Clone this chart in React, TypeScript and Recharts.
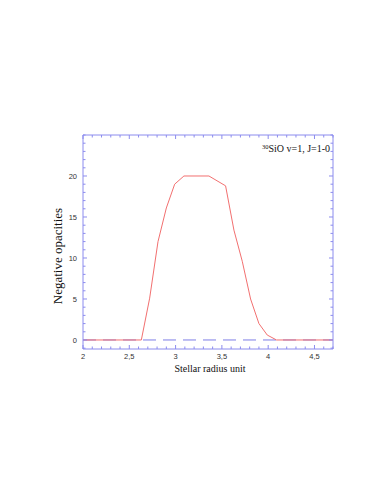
import { LineChart, Line, XAxis, YAxis, ReferenceLine, Label } from 'recharts';

// stellar radius (x) vs negative opacity (y) for 30SiO v=1, J=1-0
const RADIUS = [2.0, 2.63, 2.72, 2.81, 2.9, 2.99, 3.09, 3.36, 3.54, 3.63, 3.72, 3.81, 3.9, 3.99, 4.09, 4.7];
const OPACITY = [0, 0, 5.1, 12.0, 16.1, 19.0, 20, 20, 18.8, 13.4, 9.6, 5.0, 2.0, 0.6, 0, 0];

const X_MAJOR = [2, 2.5, 3, 3.5, 4, 4.5];
const Y_MAJOR = [0, 5, 10, 15, 20];
const X_MINOR = Array.from({ length: 28 }, (_, i) => +(2 + i * 0.1).toFixed(1));
const Y_MINOR = Array.from({ length: 27 }, (_, i) => i - 1);

const data = RADIUS.map((r, i) => ({ r, v: OPACITY[i] }));

const AXIS = '#8c8cee';
const LINE = '#f27070';
const TICK_FONT = '"Liberation Sans", Arial, sans-serif';
const SERIF = '"Liberation Serif", "Times New Roman", serif';

const isMajor = (list: number[], v: number) => list.some((m) => Math.abs(m - v) < 1e-6);
const fmt = (v: number) => String(v).replace('.', ',');

function BottomTick({ x, y, payload }: any) {
  const major = isMajor(X_MAJOR, payload.value);
  return (
    <g>
      <line x1={x} y1={y} x2={x} y2={y - (major ? 4 : 2.5)} stroke={AXIS} />
      {major && (
        <text x={x} y={y + 10} textAnchor="middle" fontSize={7.5} fontFamily={TICK_FONT} fill="#333">
          {fmt(payload.value)}
        </text>
      )}
    </g>
  );
}

function TopTick({ x, y, payload }: any) {
  const major = isMajor(X_MAJOR, payload.value);
  return <line x1={x} y1={y} x2={x} y2={y + (major ? 4 : 2.5)} stroke={AXIS} />;
}

function LeftTick({ x, y, payload }: any) {
  const major = isMajor(Y_MAJOR, payload.value);
  return (
    <g>
      <line x1={x} y1={y} x2={x + (major ? 4 : 2.5)} y2={y} stroke={AXIS} />
      {major && (
        <text x={x - 6} y={y + 2.7} textAnchor="end" fontSize={7.5} fontFamily={TICK_FONT} fill="#333">
          {payload.value}
        </text>
      )}
    </g>
  );
}

function RightTick({ x, y, payload }: any) {
  const major = isMajor(Y_MAJOR, payload.value);
  return <line x1={x} y1={y} x2={x - (major ? 4 : 2.5)} y2={y} stroke={AXIS} />;
}

export default function App() {
  return (
    <div style={{ position: 'absolute', left: 0, top: 0, width: 382, height: 494, background: '#fff' }}>
      <LineChart width={382} height={494} data={data} margin={{ top: 134, right: 48, bottom: 144, left: 82 }}>
        <XAxis
          xAxisId="bottom"
          dataKey="r"
          type="number"
          domain={[2, 4.7]}
          ticks={X_MINOR}
          interval={0}
          allowDataOverflow
          height={1}
          tickSize={0}
          tickMargin={0}
          tickLine={false}
          axisLine={{ stroke: AXIS }}
          tick={(p: any) => <BottomTick {...p} />}
        >
          <Label
            content={() => (
              <text x={210} y={371.5} textAnchor="middle" fontSize={10} fontFamily={SERIF} fill="#111">
                Stellar radius unit
              </text>
            )}
          />
        </XAxis>
        <XAxis
          xAxisId="top"
          orientation="top"
          dataKey="r"
          type="number"
          domain={[2, 4.7]}
          ticks={X_MINOR}
          interval={0}
          allowDataOverflow
          height={1}
          tickSize={0}
          tickMargin={0}
          tickLine={false}
          axisLine={{ stroke: AXIS }}
          tick={(p: any) => <TopTick {...p} />}
        >
          <Label
            content={() => (
              <text x={330} y={152} textAnchor="end" fontSize={10} fontFamily={SERIF} fill="#111">
                <tspan fontSize={6.5} dy={-3}>30</tspan>
                <tspan dy={3}>SiO v=1, J=1-0</tspan>
              </text>
            )}
          />
        </XAxis>
        <YAxis
          yAxisId="left"
          type="number"
          domain={[-1.1, 25]}
          ticks={Y_MINOR}
          interval={0}
          allowDataOverflow
          width={1}
          tickSize={0}
          tickMargin={0}
          tickLine={false}
          axisLine={{ stroke: AXIS }}
          tick={(p: any) => <LeftTick {...p} />}
        >
          <Label
            content={() => (
              <text
                x={57}
                y={256}
                transform="rotate(-90, 57, 256)"
                textAnchor="middle"
                dominantBaseline="central"
                fontSize={13}
                fontFamily={SERIF}
                fill="#111"
              >
                Negative opacities
              </text>
            )}
          />
        </YAxis>
        <YAxis
          yAxisId="right"
          orientation="right"
          type="number"
          domain={[-1.1, 25]}
          ticks={Y_MINOR}
          interval={0}
          allowDataOverflow
          width={1}
          tickSize={0}
          tickMargin={0}
          tickLine={false}
          axisLine={{ stroke: AXIS }}
          tick={(p: any) => <RightTick {...p} />}
        />
        <ReferenceLine xAxisId="bottom" yAxisId="left" y={0} stroke="#7d7de6" strokeDasharray="13 7" />
        <Line
          xAxisId="bottom"
          yAxisId="left"
          dataKey="v"
          type="linear"
          stroke={LINE}
          strokeWidth={1}
          dot={false}
          isAnimationActive={false}
        />
      </LineChart>
    </div>
  );
}
